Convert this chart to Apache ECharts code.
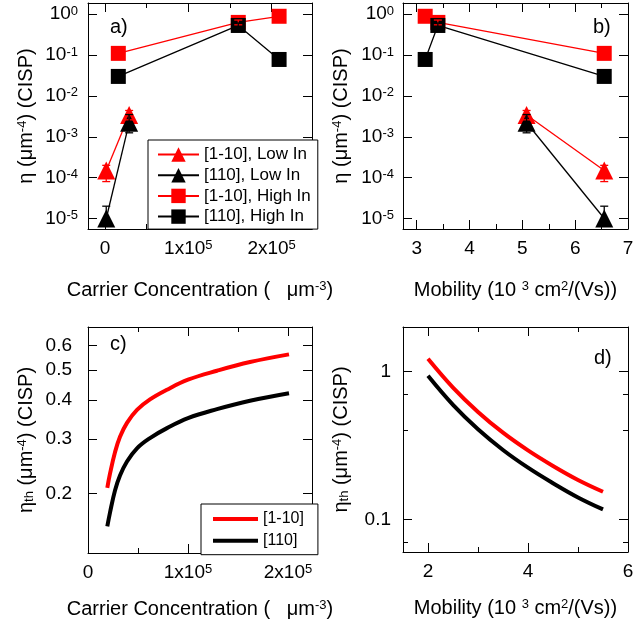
<!DOCTYPE html>
<html>
<head>
<meta charset="utf-8">
<script src="https://cdn.jsdelivr.net/npm/echarts@6/dist/echarts.min.js"></script>
<style>
html, body { margin: 0; padding: 0; background: #fff; }
#chart { width: 636px; height: 632px; }
</style>
</head>
<body>
<div id="chart"></div>
<script>
// a) / b): measured eta, triangles = Low In, squares = High In
const concTri = [1500, 29000];
const mobTri = [6.55, 5.08];
const etaTriRed = [1.5e-4, 3.4e-3];
const etaTriBlack = [1.0e-5, 2.2e-3];
const errTriRedLo = [8.0e-5, 2.6e-3];
const errTriRedHi = [2.0e-4, 4.4e-3];
const errTriBlackLo = [7.0e-6, 1.25e-3];
const errTriBlackHi = [2.0e-5, 3.5e-3];

const concSq = [16000, 160000, 209000];
const mobSq = [6.55, 3.4, 3.16];
const etaSqRed = [0.11, 0.63, 0.89];
const etaSqBlack = [0.030, 0.53, 0.078];
const errSqRedLo = [null, 0.55, null];
const errSqRedHi = [null, 0.72, null];
const errSqBlackLo = [null, 0.46, null];
const errSqBlackHi = [null, 0.61, null];

// c) threshold vs carrier concentration
const concCurve = [19300, 22000, 27000, 32000, 39000, 49000, 62000, 79000, 100000, 129000, 162000, 201000];
const etaThRedC = [0.209, 0.232, 0.272, 0.305, 0.338, 0.372, 0.402, 0.432, 0.465, 0.497, 0.530, 0.561];
const etaThBlackC = [0.157, 0.174, 0.205, 0.229, 0.254, 0.280, 0.302, 0.325, 0.350, 0.374, 0.398, 0.421];

// d) threshold vs mobility
const mobCurve = [2, 2.5, 3, 3.5, 4, 4.5, 5, 5.5];
const etaThRedD = [1.22, 0.779, 0.533, 0.386, 0.293, 0.230, 0.185, 0.154];
const etaThBlackD = [0.935, 0.595, 0.407, 0.295, 0.224, 0.176, 0.141, 0.117];

// tick values
const decades = [1e-5, 1e-4, 1e-3, 1e-2, 1e-1, 1];
const concMajor = [0, 100000, 200000];
const concMinor = [50000, 150000];
const mobMajorB = [3, 4, 5, 6, 7];
const mobMinorB = [3.5, 4.5, 5.5, 6.5];
const etaTicksC = [0.2, 0.3, 0.4, 0.5, 0.6];
const mobMajorD = [2, 4, 6];
const mobMinorD = [3, 5];
const etaMajorD = [0.1, 1];
const etaMinorD = [0.07, 0.4, 0.7];

const FONT = 'Liberation Sans';
const RED = '#ff0000', BLACK = '#000000';
const supStyle = { fontSize: 13, fontFamily: FONT, color: BLACK, verticalAlign: 'top' };
const subStyle = { fontSize: 13, fontFamily: FONT, color: BLACK, verticalAlign: 'bottom' };
const nameStyle = { fontSize: 20, fontFamily: FONT, color: BLACK, rich: { sup: supStyle, sub: subStyle } };

const decFmt = v => '10{sup|' + Math.round(Math.log10(v)) + '}';
const concFmt = v => v === 0 ? '0' : (v / 1e5) + 'x10{sup|5}';
const plainFmt = v => String(+v.toPrecision(3));

const xAxis = [], yAxis = [];

// main axis (labels + long ticks) plus mirrored axis on the other side, minor ticks on extra axes
function addAxes(list, dim, o) {
    const main = list.length;
    const sides = dim === 'x' ? ['bottom', 'top'] : ['left', 'right'];
    const common = { gridIndex: o.grid, type: o.type, min: o.min, max: o.max, logBase: 10, splitLine: { show: false } };
    sides.forEach((pos, k) => {
        list.push(Object.assign({}, common, {
            position: pos,
            axisLine: { show: true, onZero: false, lineStyle: { color: BLACK, width: 1 } },
            axisTick: { show: true, inside: true, length: 9, customValues: o.majors, lineStyle: { color: BLACK, width: 1 } },
            axisLabel: k === 0 ? {
                show: true, customValues: o.labels, formatter: o.fmt, margin: o.margin,
                fontSize: 19, fontFamily: FONT, color: BLACK, rich: { sup: supStyle }
            } : { show: false },
            name: k === 0 ? o.name : '',
            nameLocation: 'middle',
            nameGap: o.nameGap,
            nameTextStyle: nameStyle
        }));
        if (o.minors.length) {
            list.push(Object.assign({}, common, {
                position: pos,
                axisLine: { show: false, onZero: false },
                axisTick: { show: true, inside: true, length: 5, customValues: o.minors, lineStyle: { color: BLACK, width: 1 } },
                axisLabel: { show: false }
            }));
        }
    });
    return main;
}

const nameConc = 'Carrier Concentration (   μm{sup|-3})';
const nameMob = 'Mobility (10 {sup|3} cm{sup|2}/(Vs))';
const nameEta = 'η (μm{sup|-4}) (CISP)';
const nameEtaTh = 'η{sub|th} (μm{sup|-4}) (CISP)';

const A = {
    x: addAxes(xAxis, 'x', { grid: 0, type: 'value', min: -20400, max: 248500, majors: concMajor, minors: concMinor, labels: concMajor, fmt: concFmt, margin: 10, name: nameConc, nameGap: 51 }),
    y: addAxes(yAxis, 'y', { grid: 0, type: 'log', min: 5.53e-6, max: 1.88, majors: decades, minors: [], labels: decades, fmt: decFmt, margin: 10, name: nameEta, nameGap: 52 })
};
const B = {
    x: addAxes(xAxis, 'x', { grid: 1, type: 'value', min: 2.74, max: 7, majors: mobMajorB, minors: mobMinorB, labels: mobMajorB, fmt: plainFmt, margin: 10, name: nameMob, nameGap: 51 }),
    y: addAxes(yAxis, 'y', { grid: 1, type: 'log', min: 5.53e-6, max: 1.88, majors: decades, minors: [], labels: decades, fmt: decFmt, margin: 9, name: nameEta, nameGap: 52 })
};
const C = {
    x: addAxes(xAxis, 'x', { grid: 2, type: 'value', min: 0, max: 224000, majors: concMajor, minors: concMinor, labels: concMajor, fmt: concFmt, margin: 10, name: nameConc, nameGap: 46 }),
    y: addAxes(yAxis, 'y', { grid: 2, type: 'log', min: 0.129, max: 0.687, majors: etaTicksC, minors: [], labels: etaTicksC, fmt: plainFmt, margin: 16, name: nameEtaTh, nameGap: 52 })
};
const D = {
    x: addAxes(xAxis, 'x', { grid: 3, type: 'value', min: 1.5, max: 6, majors: mobMajorD, minors: mobMinorD, labels: mobMajorD, fmt: plainFmt, margin: 10, name: nameMob, nameGap: 46 }),
    y: addAxes(yAxis, 'y', { grid: 3, type: 'log', min: 0.0603, max: 2.0, majors: etaMajorD, minors: etaMinorD, labels: etaMajorD, fmt: plainFmt, margin: 12, name: nameEtaTh, nameGap: 52 })
};

const zip = (xs, ys) => xs.map((x, i) => [x, ys[i]]);

function marks(name, p, xs, ys, color, symbol, size) {
    return {
        name, type: 'line', xAxisIndex: p.x, yAxisIndex: p.y,
        data: zip(xs, ys), symbol, symbolSize: size, showSymbol: true,
        itemStyle: { color }, lineStyle: { color, width: 1.3 }, z: 2
    };
}

function errBars(p, xs, lo, hi, color) {
    return {
        type: 'custom', xAxisIndex: p.x, yAxisIndex: p.y, z: 3, silent: true,
        data: xs.map((x, i) => [x, lo[i], hi[i]]).filter(d => d[1] != null),
        encode: { x: 0, y: [1, 2] },
        renderItem: (params, api) => {
            const x = api.value(0);
            const a = api.coord([x, api.value(1)]);
            const b = api.coord([x, api.value(2)]);
            const st = { stroke: color, lineWidth: 1.3 };
            return {
                type: 'group', children: [
                    { type: 'line', shape: { x1: a[0], y1: a[1], x2: b[0], y2: b[1] }, style: st },
                    { type: 'line', shape: { x1: a[0] - 4, y1: a[1], x2: a[0] + 4, y2: a[1] }, style: st },
                    { type: 'line', shape: { x1: b[0] - 4, y1: b[1], x2: b[0] + 4, y2: b[1] }, style: st }
                ]
            };
        }
    };
}

function curve(name, p, xs, ys, color) {
    return {
        name, type: 'line', xAxisIndex: p.x, yAxisIndex: p.y, data: zip(xs, ys),
        showSymbol: false, symbol: 'none', smooth: 0.4,
        lineStyle: { color, width: 4 }, itemStyle: { color }, z: 2
    };
}

const series = [];
[[A, concTri, concSq], [B, mobTri, mobSq]].forEach(([p, xt, xq]) => {
    series.push(marks('[1-10], Low In', p, xt, etaTriRed, RED, 'triangle', 18));
    series.push(marks('[110], Low In', p, xt, etaTriBlack, BLACK, 'triangle', 18));
    series.push(marks('[1-10], High In', p, xq, etaSqRed, RED, 'rect', 15));
    series.push(marks('[110], High In', p, xq, etaSqBlack, BLACK, 'rect', 15));
    series.push(errBars(p, xt, errTriRedLo, errTriRedHi, RED));
    series.push(errBars(p, xt, errTriBlackLo, errTriBlackHi, BLACK));
    series.push(errBars(p, xq, errSqRedLo, errSqRedHi, RED));
    series.push(errBars(p, xq, errSqBlackLo, errSqBlackHi, BLACK));
});
series.push(curve('[1-10]', C, concCurve, etaThRedC, RED));
series.push(curve('[110]', C, concCurve, etaThBlackC, BLACK));
series.push(curve('[1-10]', D, mobCurve, etaThRedD, RED));
series.push(curve('[110]', D, mobCurve, etaThBlackD, BLACK));

const panelLabel = (text, left, top) => ({
    type: 'text', left, top, z: 10,
    style: { text, fontSize: 20, fontFamily: FONT, fill: BLACK }
});

const chart = echarts.init(document.getElementById('chart'));
chart.setOption({
    animation: false,
    backgroundColor: '#fff',
    grid: [
        { left: 88, top: 3, width: 224, height: 226, outerBoundsMode: 'none' },
        { left: 403, top: 3, width: 225, height: 226, outerBoundsMode: 'none' },
        { left: 88, top: 327, width: 224, height: 226, outerBoundsMode: 'none' },
        { left: 403, top: 327, width: 225, height: 225, outerBoundsMode: 'none' }
    ],
    xAxis,
    yAxis,
    legend: [{
        data: ['[1-10], Low In', '[110], Low In', '[1-10], High In', '[110], High In'],
        orient: 'vertical', left: 148, top: 140,
        itemWidth: 41, itemHeight: 18, itemGap: 3.7,
        padding: [6, 7, 4, 9],
        backgroundColor: '#fff', borderColor: BLACK, borderWidth: 1, borderRadius: 0,
        textStyle: { fontSize: 17, fontFamily: FONT, color: BLACK },
        selectedMode: false, z: 6
    }, {
        data: [{ name: '[1-10]', icon: 'rect' }, { name: '[110]', icon: 'rect' }],
        orient: 'vertical', left: 201, top: 504,
        itemWidth: 45, itemHeight: 4, itemGap: 3.7,
        padding: [6, 14, 5, 12],
        backgroundColor: '#fff', borderColor: BLACK, borderWidth: 1, borderRadius: 0,
        textStyle: { fontSize: 16, lineHeight: 18, fontFamily: FONT, color: BLACK },
        selectedMode: false, z: 6
    }],
    graphic: [
        panelLabel('a)', 110, 17),
        panelLabel('b)', 593, 17),
        panelLabel('c)', 110, 334),
        panelLabel('d)', 594, 348)
    ],
    series
});
</script>
</body>
</html>
